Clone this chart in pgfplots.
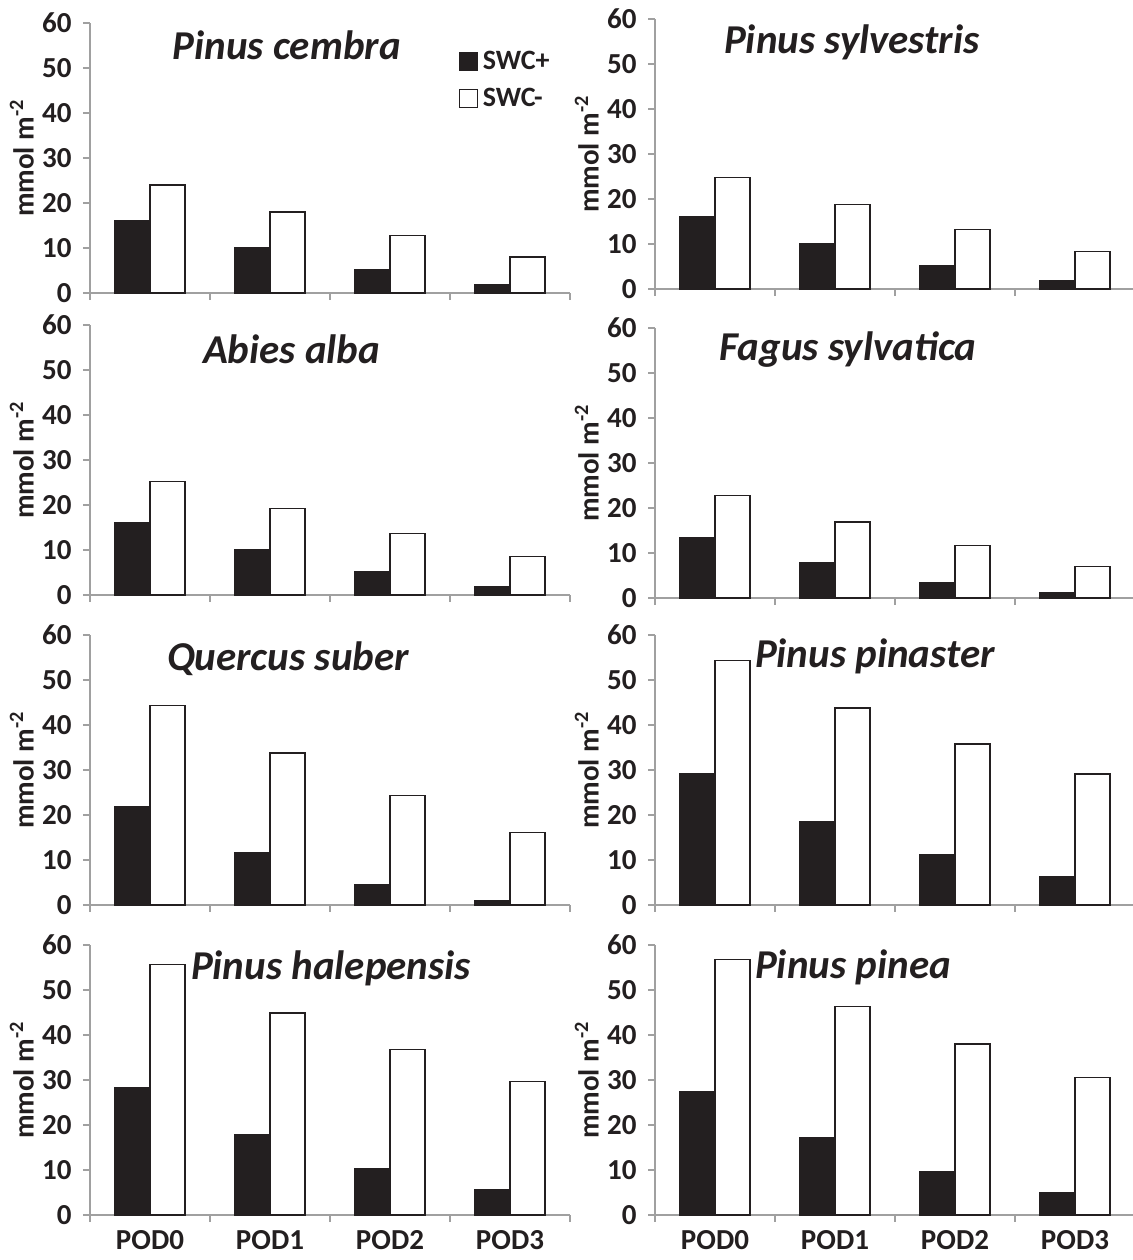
\documentclass[border=0pt]{standalone}
\usepackage{fontspec}
\setmainfont{Carlito}
\usepackage{pgfplots}
\pgfplotsset{compat=1.18}

\definecolor{ink}{HTML}{231F20}
\definecolor{axisgray}{HTML}{A0A0A0}

\tikzset{spname/.style={font=\fontsize{20.5}{24}\selectfont\bfseries\itshape, text=ink}}

\pgfplotsset{
  pod/.style={
    scale only axis, width=240pt, height=135pt,
    anchor=south west,
    xmin=-0.5, xmax=3.5, ymin=0, ymax=60,
    axis x line*=bottom, axis y line*=left,
    axis line style={draw=axisgray, line width=0.6pt},
    tick style={draw=axisgray, line width=0.6pt},
    tick align=outside, major tick length=3.5pt,
    ytick={0,10,...,60},
    xtick={-0.5,0.5,1.5,2.5,3.5},
    x tick label as interval,
    xticklabels={},
    /pgf/number format/assume math mode=true,
    tick label style={font=\fontsize{14.5}{17}\selectfont\bfseries, text=ink},
    yticklabel style={anchor=east, inner sep=0pt, xshift=-5.5pt},
    xticklabel style={anchor=base, yshift=-13.5pt},
    ylabel={mmol m\textsuperscript{-2}},
    every axis y label/.style={at={(axis description cs:-0.142,0.5)}, rotate=90, anchor=center,
      font=\fontsize{14.5}{17}\selectfont\bfseries, text=ink},
    ybar=0pt, bar width=17.5pt,
    legend image code/.code={\draw[#1] (0pt,-4.5pt) rectangle (9pt,4.5pt);},
  },
  swcplus/.style={fill=ink, draw=ink, line width=0.6pt},
  swcminus/.style={fill=white, draw=ink, line width=0.6pt},
}

\begin{document}
\begin{tikzpicture}

% row 1
\begin{axis}[pod, at={(45pt,-146.5pt)},
  legend style={at={(0.767,0.91)}, anchor=north west, draw=none, fill=none, inner sep=0pt,
    font=\fontsize{14}{16}\selectfont\bfseries, text=ink, row sep=5pt,
    nodes={inner xsep=2.5pt, inner ysep=1.5pt}},
  legend cell align=left]
\addplot[swcplus] coordinates {(0,16) (1,10.2) (2,5.3) (3,1.9)};
\addplot[swcminus] coordinates {(0,24) (1,18) (2,12.7) (3,8)};
\legend{SWC+, SWC-}
\node[spname] at (rel axis cs:0.41,0.918) {Pinus cembra};
\end{axis}

\begin{axis}[pod, at={(327.5pt,-144.5pt)}]
\addplot[swcplus] coordinates {(0,16) (1,10) (2,5.2) (3,1.8)};
\addplot[swcminus] coordinates {(0,24.8) (1,18.8) (2,13.3) (3,8.3)};
\node[spname] at (rel axis cs:0.41,0.915) {Pinus sylvestris};
\end{axis}

% row 2
\begin{axis}[pod, at={(45pt,-297.5pt)}]
\addplot[swcplus] coordinates {(0,16.2) (1,10.2) (2,5.2) (3,1.85)};
\addplot[swcminus] coordinates {(0,25.2) (1,19.2) (2,13.65) (3,8.5)};
\node[spname] at (rel axis cs:0.42,0.911) {Abies alba};
\end{axis}

\begin{axis}[pod, at={(327.5pt,-299pt)}]
\addplot[swcplus] coordinates {(0,13.5) (1,7.8) (2,3.5) (3,1.1)};
\addplot[swcminus] coordinates {(0,22.8) (1,16.9) (2,11.7) (3,7.05)};
\node[spname] at (rel axis cs:0.402,0.919) {Fagus sylvatica};
\end{axis}

% row 3
\begin{axis}[pod, at={(45pt,-452.5pt)}]
\addplot[swcplus] coordinates {(0,21.9) (1,11.7) (2,4.6) (3,1.0)};
\addplot[swcminus] coordinates {(0,44.3) (1,33.8) (2,24.3) (3,16.1)};
\node[spname] at (rel axis cs:0.4125,0.911) {Quercus suber};
\end{axis}

\begin{axis}[pod, at={(327.5pt,-452.5pt)}]
\addplot[swcplus] coordinates {(0,29.1) (1,18.6) (2,11.3) (3,6.3)};
\addplot[swcminus] coordinates {(0,54.3) (1,43.8) (2,35.8) (3,29.1)};
\node[spname] at (rel axis cs:0.458,0.922) {Pinus pinaster};
\end{axis}

% row 4
\begin{axis}[pod, at={(45pt,-607.5pt)},
  xticklabels={POD0,POD1,POD2,POD3}]
\addplot[swcplus] coordinates {(0,28.3) (1,17.8) (2,10.4) (3,5.6)};
\addplot[swcminus] coordinates {(0,55.6) (1,44.9) (2,36.7) (3,29.6)};
\node[spname] at (rel axis cs:0.502,0.915) {Pinus halepensis};
\end{axis}

\begin{axis}[pod, at={(327.5pt,-607.5pt)},
  xticklabels={POD0,POD1,POD2,POD3}]
\addplot[swcplus] coordinates {(0,27.5) (1,17.1) (2,9.6) (3,4.9)};
\addplot[swcminus] coordinates {(0,56.75) (1,46.3) (2,38) (3,30.6)};
\node[spname] at (rel axis cs:0.4125,0.919) {Pinus pinea};
\end{axis}

\pgfresetboundingbox
\useasboundingbox (0pt,0pt) rectangle (566pt,-630pt);
\end{tikzpicture}
\end{document}
